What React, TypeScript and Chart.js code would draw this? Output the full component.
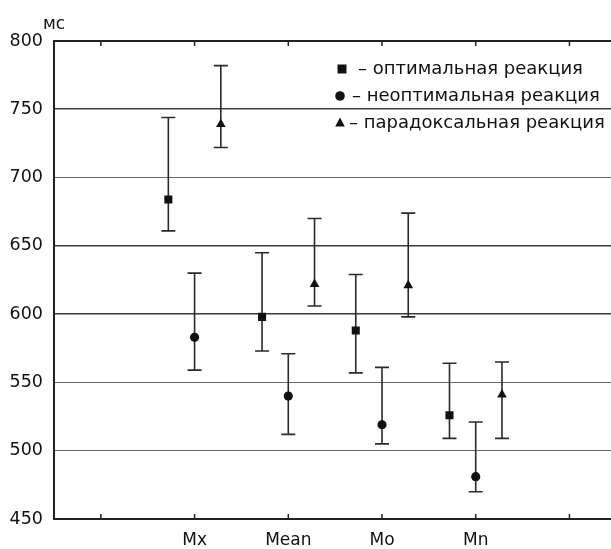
import { useEffect, useRef } from "react";
import { Chart, registerables } from "chart.js";

Chart.register(...registerables);

// ---- data ----
const xTickLabels = ["", "Mx", "Mean", "Mo", "Mn", ""];
const categoryPositions = [2, 3, 4, 5];
const seriesNames = ["оптимальная реакция", "неоптимальная реакция", "парадоксальная реакция"];
const seriesOffsets = [-0.28, 0, 0.28];
const seriesStyles = ["rect", "circle", "triangle"];

const optimalMean = [684, 598, 588, 526];
const optimalLow = [661, 573, 557, 509];
const optimalHigh = [744, 645, 629, 564];

const nonOptimalMean = [583, 540, 519, 481];
const nonOptimalLow = [559, 512, 505, 470];
const nonOptimalHigh = [630, 571, 561, 521];

const paradoxMean = [739, 622, 621, 541];
const paradoxLow = [722, 606, 598, 509];
const paradoxHigh = [782, 670, 674, 565];

const yMin = 450;
const yMax = 800;
const yStep = 50;
const yUnit = "мс";
const darkGridValues = [750, 650, 600];

const FONT = "'DejaVu Sans', Arial, sans-serif";

const means = [optimalMean, nonOptimalMean, paradoxMean];
const lows = [optimalLow, nonOptimalLow, paradoxLow];
const highs = [optimalHigh, nonOptimalHigh, paradoxHigh];

function drawMarker(ctx: CanvasRenderingContext2D, style: string, x: number, y: number) {
  ctx.beginPath();
  if (style === "rect") {
    ctx.rect(x - 4.5, y - 4.5, 9, 9);
  } else if (style === "circle") {
    ctx.arc(x, y, 4.8, 0, Math.PI * 2);
  } else {
    ctx.moveTo(x, y - 5.5);
    ctx.lineTo(x + 4.8, y + 3.5);
    ctx.lineTo(x - 4.8, y + 3.5);
    ctx.closePath();
  }
  ctx.fill();
}

const errorBarPlugin = {
  id: "errorBars",
  beforeDatasetsDraw(chart: any) {
    const ctx = chart.ctx;
    const xs = chart.scales.x;
    const ys = chart.scales.y;
    ctx.save();
    ctx.strokeStyle = "#2a2a2a";
    ctx.lineWidth = 1.6;
    chart.data.datasets.forEach((ds: any) => {
      ds.data.forEach((pt: any, j: number) => {
        const x = xs.getPixelForValue(pt.x);
        const yl = ys.getPixelForValue(ds.lows[j]);
        const yh = ys.getPixelForValue(ds.highs[j]);
        ctx.beginPath();
        ctx.moveTo(x, yl);
        ctx.lineTo(x, yh);
        ctx.moveTo(x - 7, yl);
        ctx.lineTo(x + 7, yl);
        ctx.moveTo(x - 7, yh);
        ctx.lineTo(x + 7, yh);
        ctx.stroke();
      });
    });
    ctx.restore();
  },
};

const framePlugin = {
  id: "frame",
  afterDraw(chart: any) {
    const ctx = chart.ctx;
    const { left, right, top, bottom } = chart.chartArea;
    const xs = chart.scales.x;
    ctx.save();
    ctx.strokeStyle = "#222";
    ctx.lineWidth = 2;
    ctx.beginPath();
    ctx.moveTo(left - 1, top);
    ctx.lineTo(right + 2, top);
    ctx.stroke();
    ctx.lineWidth = 1.5;
    ctx.beginPath();
    xTickLabels.forEach((_, i) => {
      const x = xs.getPixelForValue(i + 1);
      ctx.moveTo(x, bottom);
      ctx.lineTo(x, bottom - 5);
      ctx.moveTo(x, top);
      ctx.lineTo(x, top + 5);
    });
    ctx.stroke();

    // unit label
    ctx.fillStyle = "#111";
    ctx.font = `17px ${FONT}`;
    ctx.textAlign = "left";
    ctx.textBaseline = "alphabetic";
    ctx.fillText(yUnit, 43, 29);

    // legend
    const legendRows = [
      { mx: 342, my: 69, tx: 358 },
      { mx: 340, my: 96, tx: 352 },
      { mx: 340, my: 123, tx: 349 },
    ];
    ctx.font = `18px ${FONT}`;
    ctx.textBaseline = "middle";
    seriesNames.forEach((name, i) => {
      const r = legendRows[i];
      drawMarker(ctx, seriesStyles[i], r.mx, r.my);
      ctx.fillText("– " + name, r.tx, r.my);
    });
    ctx.restore();
  },
};

export default function App() {
  const canvasRef = useRef<HTMLCanvasElement>(null);

  useEffect(() => {
    const canvas = canvasRef.current;
    if (!canvas) return;
    const datasets = seriesNames.map((name, i) => ({
      label: name,
      data: categoryPositions.map((p, j) => ({ x: p + seriesOffsets[i], y: means[i][j] })),
      lows: lows[i],
      highs: highs[i],
      pointStyle: seriesStyles[i],
      pointRadius: i === 0 ? 5.7 : i === 1 ? 4.6 : 5.6,
      pointBackgroundColor: "#111",
      pointBorderColor: "#111",
      pointBorderWidth: 0,
      showLine: false,
    }));

    const chart = new Chart(canvas, {
      type: "scatter",
      data: { datasets: datasets as any },
      options: {
        responsive: false,
        animation: false,
        devicePixelRatio: 1,
        layout: { padding: { top: 41, left: 0, right: 0, bottom: 0 } },
        plugins: { legend: { display: false }, tooltip: { enabled: false } },
        scales: {
          x: {
            type: "linear",
            min: 0.5,
            max: 6.5,
            afterFit: (s: any) => {
              s.height = 30;
            },
            afterBuildTicks: (s: any) => {
              s.ticks = xTickLabels.map((_, i) => ({ value: i + 1 }));
            },
            grid: { display: false },
            border: { display: true, color: "#222", width: 2 },
            ticks: {
              autoSkip: false,
              maxRotation: 0,
              padding: 3,
              color: "#111",
              font: { family: FONT, size: 17 },
              callback: (v: any) => xTickLabels[Math.round(v) - 1] ?? "",
            },
          },
          y: {
            type: "linear",
            min: yMin,
            max: yMax,
            afterFit: (s: any) => {
              s.width = 54;
            },
            grid: {
              drawTicks: false,
              color: (c: any) => {
                const v = c.tick?.value;
                if (v === yMin || v === yMax) return "rgba(0,0,0,0)";
                return darkGridValues.includes(v) ? "#3a3a3a" : "#6a6a6a";
              },
              lineWidth: (c: any) => (darkGridValues.includes(c.tick?.value) ? 1.6 : 1.1),
            },
            border: { display: true, color: "#222", width: 2 },
            ticks: {
              stepSize: yStep,
              padding: 11,
              color: "#111",
              font: { family: FONT, size: 17.5 },
            },
          },
        },
      },
      plugins: [errorBarPlugin, framePlugin],
    });
    return () => chart.destroy();
  }, []);

  return (
    <div
      style={{
        position: "fixed",
        left: 0,
        top: 0,
        width: 611,
        height: 549,
        overflow: "hidden",
        background: "#fff",
      }}
    >
      <canvas ref={canvasRef} width={622} height={549} style={{ display: "block" }} />
    </div>
  );
}
